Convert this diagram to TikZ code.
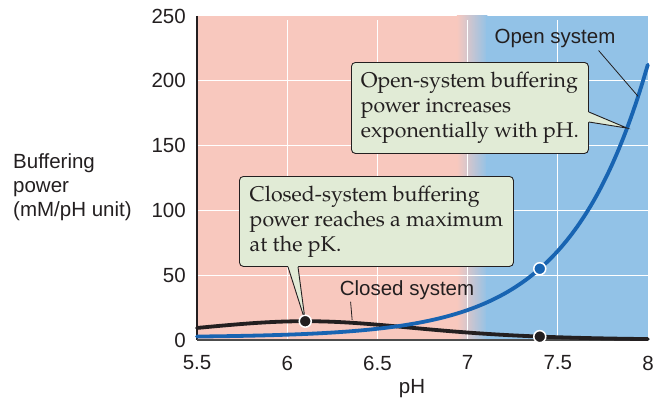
\documentclass[tikz,border=0pt]{standalone}
\usepackage{fontspec}
\setmainfont{Liberation Sans}
\newfontfamily\notefont{TeX Gyre Pagella}
\definecolor{acidpink}{RGB}{248,200,190}
\definecolor{baseblue}{RGB}{146,194,231}
\definecolor{notegreen}{RGB}{225,235,214}
\definecolor{openblue}{RGB}{24,100,178}
\definecolor{inkgray}{RGB}{35,31,32}

\tikzset{
  gridline/.style={white, line width=1.2pt},
  curveline/.style={line width=3.8pt, line join=round, line cap=round},
  sanslabel/.style={inner sep=0pt, text=inkgray, font=\fontsize{20.5}{24}\selectfont},
  notebox/.style={draw=inkgray, fill=notegreen, rounded corners=4pt, line width=0.9pt,
    align=left, text=inkgray, font=\notefont\fontsize{21.3}{25}\selectfont},
  notetail/.style={draw=inkgray, line width=0.9pt, line join=miter},
  dot/.style={circle, draw=white, line width=1.5pt, inner sep=0pt, minimum size=12pt},
  leader/.style={inkgray, line width=0.8pt}
}

\begin{document}
\begin{tikzpicture}[x=1pt, y=1pt]
  \useasboundingbox (0,0) rectangle (661,400);

  % plot area: pH 5.5..8 on x, 0..250 on y
  \begin{scope}[shift={(197,60)}, x=180.4pt, y=1.296pt]
    \fill[acidpink] (0,0) rectangle (1.45,250);
    \shade[left color=acidpink, right color=baseblue] (1.44,0) rectangle (1.61,250);
    \fill[baseblue] (1.60,0) rectangle (2.5,250);

    \foreach \u in {0.5,1,1.5,2}
      \draw[gridline] (\u,0) -- (\u,247);
    \foreach \v in {50,100,150,200}
      \draw[gridline] (0,\v) -- (2.5,\v);

    \draw[inkgray, line width=1.3pt] (0,250) -- (0,0);
    \draw[gray!60!black, line width=1.3pt] (0,0) -- (2.5,0);

    \foreach \v in {0,50,...,250}
      \node[sanslabel, anchor=east] (ytick\v) at (-0.061,\v) {\v};
    \foreach \p [count=\i] in {5.5,6,6.5,7,7.5,8}
      \node[sanslabel] (xtick\i) at ({\p-5.5},-17.7) {\p};
    \node[sanslabel] (xlabel) at (1.192,-37.8) {pH};

    % curves
    \draw[curveline, inkgray] plot[domain=5.5:8, samples=90, smooth]
      ({\x-5.5}, {58*10^(\x-6.1)/((1+10^(\x-6.1))^2)});
    \draw[curveline, openblue] plot[domain=5.5:8, samples=90, smooth]
      ({\x-5.5}, {53*10^(\x-7.4)+2});

    \coordinate (pkpoint) at (0.6,14.5);
    \coordinate (closedlow) at (1.9,2.6);
    \coordinate (openmid) at (1.9,55);
    \coordinate (opentail) at (2.384,163.5);
    \coordinate (openleader) at (2.445,188);
    \coordinate (closedleader) at (0.86,15.5);
  \end{scope}

  \node[sanslabel, anchor=west, align=left] (ylabel) at (13,213)
    {Buffering\\power\\(mM/pH unit)};

  % curve names
  \node[sanslabel] (openname) at (555,362) {Open system};
  \draw[leader] ([xshift=-17pt,yshift=-3pt]openname.south east) -- (openleader);
  \node[sanslabel] (closedname) at (407,110) {Closed system};
  \draw[leader] ([xshift=11pt,yshift=-2pt]closedname.south west) -- (closedleader);

  % notes
  \node[notebox, anchor=north west, minimum width=237pt, minimum height=91pt]
    (opennote) at (351,338)
    {Open-system buffering\\power increases\\exponentially with pH.};
  \fill[notegreen] ([xshift=-1pt,yshift=-50pt]opennote.north east) -- (opentail)
    -- ([xshift=-1pt,yshift=-60pt]opennote.north east) -- cycle;
  \draw[notetail] ([yshift=-50pt]opennote.north east) -- (opentail)
    -- ([yshift=-60pt]opennote.north east);

  \node[notebox, anchor=north west, minimum width=274pt, minimum height=90pt]
    (closednote) at (239,224)
    {Closed-system buffering\\power reaches a maximum\\at the pK.};
  \fill[notegreen] ([xshift=49pt,yshift=1pt]closednote.south west) -- (pkpoint)
    -- ([xshift=59pt,yshift=1pt]closednote.south west) -- cycle;
  \draw[notetail] ([xshift=49pt]closednote.south west) -- (pkpoint)
    -- ([xshift=59pt]closednote.south west);

  % marked points
  \node[dot, fill=inkgray] (pkdot) at (pkpoint) {};
  \node[dot, fill=inkgray] (closeddot) at (closedlow) {};
  \node[dot, fill=openblue] (opendot) at (openmid) {};
\end{tikzpicture}
\end{document}
